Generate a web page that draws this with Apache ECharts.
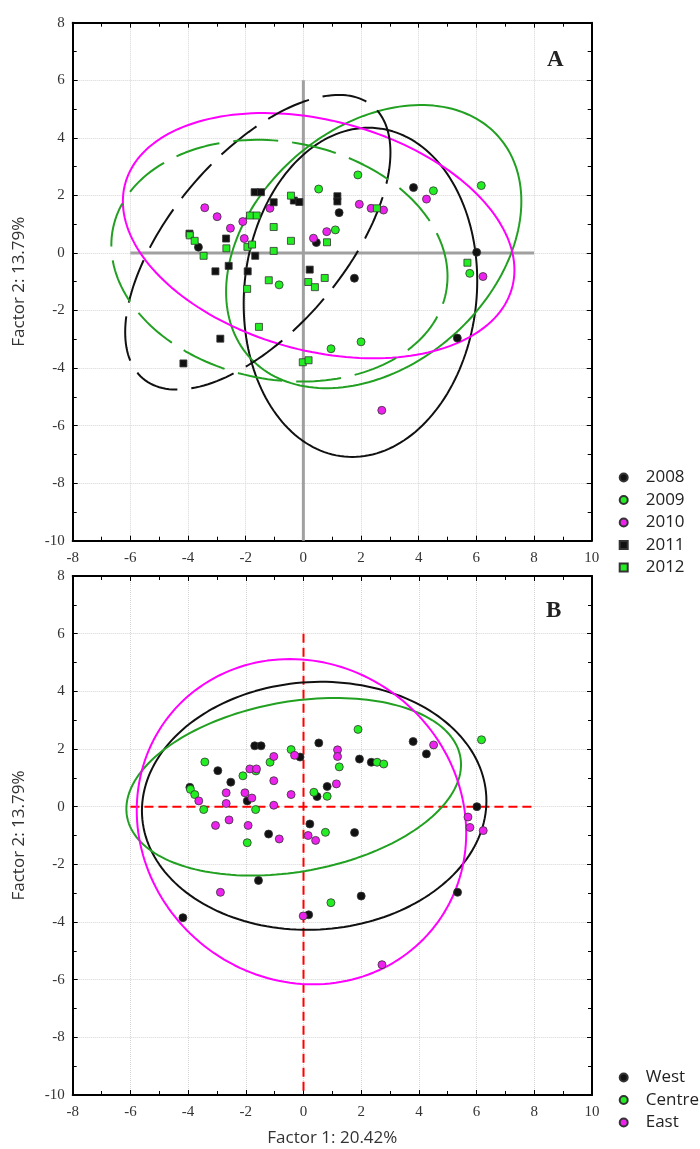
<!DOCTYPE html>
<html><head><meta charset="utf-8">
<script src="https://cdn.jsdelivr.net/npm/echarts/dist/echarts.min.js"></script>
<style>html,body{margin:0;padding:0;background:#fff}#c{width:700px;height:1149px}</style>
</head><body><div id="c"></div>
<script>
// ---- Panel A points (by year) ----
const y2008 = [[-3.64,0.20],[0.45,0.36],[1.24,1.40],[3.82,2.27],[6.01,0.02],[1.77,-0.88],[5.34,-2.96]];
const y2009 = [[0.53,2.22],[1.89,2.71],[4.51,2.16],[6.17,2.34],[1.11,0.80],[5.77,-0.71],[-0.84,-1.11],[0.96,-3.33],[2.00,-3.09]];
const y2010 = [[-3.42,1.57],[-2.99,1.26],[-2.53,0.86],[-2.10,1.09],[-2.05,0.50],[-1.16,1.55],[0.35,0.51],[0.81,0.74],[1.94,1.69],[2.35,1.55],[2.78,1.49],[4.27,1.87],[6.23,-0.82],[2.72,-5.47]];
const y2011 = [[-3.95,0.67],[-2.68,0.50],[-2.59,-0.45],[-3.05,-0.64],[-1.67,-0.10],[-1.93,-0.64],[-1.69,2.11],[-1.47,2.11],[-1.03,1.76],[-0.33,1.82],[-0.14,1.77],[1.18,1.97],[1.18,1.79],[0.22,-0.58],[-2.88,-2.98],[-4.16,-3.84]];
const y2012 = [[-3.94,0.61],[-3.77,0.42],[-3.46,-0.10],[-2.67,0.16],[-1.94,0.21],[-1.78,0.29],[-1.03,0.07],[-0.43,0.42],[-1.03,0.90],[-1.85,1.30],[-1.62,1.30],[-0.43,1.99],[0.82,0.37],[2.55,1.55],[5.69,-0.34],[0.74,-0.87],[0.17,-1.01],[0.40,-1.19],[-1.20,-0.95],[-1.95,-1.25],[-1.54,-2.57],[-0.02,-3.80],[0.18,-3.73]];

// ---- Panel B points (by region) ----
const west = [[-1.69,2.11],[-1.47,2.11],[0.53,2.21],[-0.12,1.72],[-2.97,1.25],[-2.52,0.85],[-3.94,0.67],[-1.95,0.20],[0.47,0.35],[0.82,0.70],[-1.21,-0.95],[0.22,-0.60],[-1.56,-2.56],[0.18,-3.75],[-4.18,-3.85],[3.80,2.26],[4.26,1.83],[1.94,1.65],[2.35,1.54],[6.01,0.00],[1.77,-0.90],[2.00,-3.10],[5.34,-2.97]];
const centre = [[-0.43,1.98],[-1.16,1.54],[-3.42,1.55],[-2.10,1.07],[-3.92,0.60],[-3.77,0.42],[-3.46,-0.10],[-1.66,-0.10],[0.36,0.50],[0.82,0.36],[1.24,1.38],[0.76,-0.89],[-1.95,-1.25],[0.95,-3.33],[1.89,2.68],[6.17,2.32],[2.55,1.54],[2.78,1.48],[-1.65,1.24]];
const east = [[-0.31,1.78],[-1.03,1.74],[-1.86,1.31],[-1.63,1.31],[-1.03,0.90],[-3.63,0.20],[-2.68,0.48],[-2.68,0.11],[-2.03,0.48],[-1.79,0.30],[-1.03,0.05],[-0.43,0.42],[1.14,0.79],[1.18,1.97],[1.18,1.74],[-3.05,-0.65],[-2.58,-0.46],[-1.92,-0.65],[-0.84,-1.12],[0.16,-1.00],[0.42,-1.17],[-2.88,-2.97],[-0.01,-3.79],[4.51,2.14],[5.70,-0.36],[5.77,-0.72],[6.23,-0.83],[2.72,-5.48]];

// ---- Confidence ellipses: [centerX, centerY, halfWidth, halfHeight, correlation] ----
const ellA2008 = [1.98, -1.37, 4.05, 5.72, 0.07];
const ellA2009 = [2.44, 0.22, 5.12, 4.92, 0.32];
const ellA2010 = [0.53, 0.60, 6.79, 4.26, -0.28];
const ellA2011 = [-1.58, 0.37, 4.60, 5.12, 0.61];
const ellA2012 = [-0.83, -0.27, 5.83, 4.20, -0.13];
const ellWest = [0.37, 0.03, 5.97, 4.30, 0.04];
const ellCentre = [-0.34, 0.69, 5.80, 3.08, 0.25];
const ellEast = [-0.07, -0.52, 5.71, 5.64, -0.07];

// ---- Reference cross lines ----
const crossH = [[-6,0],[8,0]];
const crossV = [[0,6],[0,-10]];

// ---- Axes ----
const xRange = [-8, 10];
const yRange = [-10, 8];
const tickStep = 2;
const yearNames = ['2008','2009','2010','2011','2012'];
const regionNames = ['West','Centre','East'];

function ellipsePath(p){
  const [cx,cy,w,h,r] = p; const k = Math.sqrt(1-r*r); const pts=[];
  for(let i=0;i<=360;i+=2){const t=i*Math.PI/180; pts.push([cx+w*Math.cos(t), cy+h*(r*Math.cos(t)+k*Math.sin(t))]);}
  return pts;
}

const BLACK='#111111', GREEN='#22ee22', MAG='#ee22ee';
const GREENL='#22a022', MAGL='#ff00ff';
const serif = '"Liberation Serif", "Times New Roman", serif';
const sans = '"Open Sans", sans-serif';
const SQUARE = 'path://M0,0L10,0L10,10L0,10Z';

function axisCommon(){
  return {
    type:'value', interval:tickStep,
    axisLine:{show:true,onZero:false,lineStyle:{color:'#000',width:2}},
    axisTick:{show:true,inside:true,length:5,lineStyle:{color:'#000',width:1}},
    minorTick:{show:true,splitNumber:2,length:4,lineStyle:{color:'#000',width:1}},
  };
}
function xAx(grid,pos,main,name){
  return Object.assign(axisCommon(),{
    gridIndex:grid, position:pos, min:xRange[0], max:xRange[1],
    axisLabel:{show:main,margin:10,fontFamily:serif,fontSize:15,color:'#333'},
    splitLine:{show:main,lineStyle:{color:'#d6d6d6',type:'dotted',width:1}},
    name: name||'', nameLocation:'middle', nameGap:35,
    nameTextStyle:{fontFamily:sans,fontSize:17,color:'#333'}
  });
}
function yAx(grid,pos,main){
  return Object.assign(axisCommon(),{
    gridIndex:grid, position:pos, min:yRange[0], max:yRange[1],
    axisLabel:{show:main,margin:8,fontFamily:serif,fontSize:15,color:'#333'},
    splitLine:{show:main,lineStyle:{color:'#d6d6d6',type:'dotted',width:1}},
    name: main?'Factor 2: 13.79%':'', nameLocation:'middle', nameGap:45,
    nameTextStyle:{fontFamily:sans,fontSize:17,color:'#333'}
  });
}

function lineS(name,data,ax,color,type,width){
  return {name:name,type:'line',xAxisIndex:ax,yAxisIndex:ax,data:data,symbol:'none',showSymbol:false,
    lineStyle:{color:color,width:width||2,type:type||'solid'},silent:true,z:2,animation:false};
}
function scat(name,data,ax,color,symbol,size){
  return {name:name,type:'scatter',xAxisIndex:ax,yAxisIndex:ax,data:data,symbol:symbol,symbolSize:size,
    itemStyle:{color:color,borderColor:'#333',borderWidth:0.8,opacity:1},z:5,animation:false};
}

const dashPat=[45,14];
const series = [
  lineS('crossA-h',crossH,0,'#a0a0a0','solid',3),
  lineS('crossA-v',crossV,0,'#a0a0a0','solid',3),
  lineS('e2008',ellipsePath(ellA2008),0,BLACK),
  lineS('e2009',ellipsePath(ellA2009),0,GREENL),
  lineS('e2010',ellipsePath(ellA2010),0,MAGL),
  lineS('e2011',ellipsePath(ellA2011),0,BLACK,dashPat),
  lineS('e2012',ellipsePath(ellA2012),0,GREENL,dashPat),
  scat('2008',y2008,0,BLACK,'circle',8),
  scat('2009',y2009,0,GREEN,'circle',8),
  scat('2010',y2010,0,MAG,'circle',8),
  scat('2011',y2011,0,BLACK,'rect',7),
  scat('2012',y2012,0,GREEN,'rect',7),
  lineS('crossB-h',crossH,2,'#ff0000',[9,5],2),
  lineS('crossB-v',crossV,2,'#ff0000',[9,5],2),
  lineS('eWest',ellipsePath(ellWest),2,BLACK),
  lineS('eCentre',ellipsePath(ellCentre),2,GREENL),
  lineS('eEast',ellipsePath(ellEast),2,MAGL),
  scat('West',west,2,BLACK,'circle',8),
  scat('Centre',centre,2,GREEN,'circle',8),
  scat('East',east,2,MAG,'circle',8)
];

const legendText={fontFamily:sans,fontSize:17,color:'#222',padding:[0,0,0,13]};
const option = {
  animation:false,
  backgroundColor:'#fff',
  grid:[{left:72.7,top:22.7,width:519,height:518},{left:72.7,top:576,width:519.3,height:519}],
  xAxis:[xAx(0,'bottom',true),xAx(0,'top',false),xAx(1,'bottom',true,'Factor 1: 20.42%'),xAx(1,'top',false)],
  yAxis:[yAx(0,'left',true),yAx(0,'right',false),yAx(1,'left',true),yAx(1,'right',false)],
  legend:[
    {data:yearNames.map((n,i)=>({name:n,icon:i<3?'circle':SQUARE})),orient:'vertical',left:613.7,top:464,
     itemWidth:8,itemHeight:8,itemGap:5.5,symbolKeepAspect:true,textStyle:legendText,selectedMode:false},
    {data:regionNames.map(n=>({name:n,icon:'circle'})),orient:'vertical',left:613.7,top:1064,
     itemWidth:8,itemHeight:8,itemGap:5.5,symbolKeepAspect:true,textStyle:legendText,selectedMode:false}
  ],
  graphic:[
    {type:'text',left:547,top:49,style:{text:'A',font:'bold 23px "Liberation Serif"',fill:'#222'}},
    {type:'text',left:546,top:600,style:{text:'B',font:'bold 23px "Liberation Serif"',fill:'#222'}}
  ],
  series:series
};
const chart = echarts.init(document.getElementById('c'),null,{renderer:'canvas'});
chart.setOption(option);
</script></body></html>
